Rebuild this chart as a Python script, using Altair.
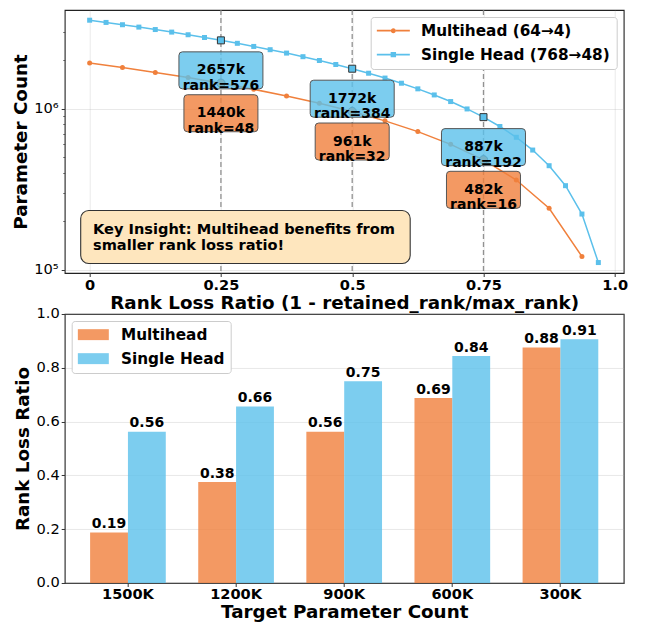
import json
import altair as alt
import pandas as pd

# ---------------- data: top panel ----------------
MH_NAME = "Multihead (64→4)"
SH_NAME = "Single Head (768→48)"

mh_loss = [0.0, 0.0625, 0.125, 0.1875, 0.25, 0.3125, 0.375, 0.4375,
           0.5, 0.5625, 0.625, 0.6875, 0.75, 0.8125, 0.875, 0.9375]
mh_rank = [64, 60, 56, 52, 48, 44, 40, 36, 32, 28, 24, 20, 16, 12, 8, 4]
mh_params_k = [1921, 1801, 1681, 1561, 1440, 1320, 1201, 1081,
               961, 841, 721, 601, 482, 361, 241, 121]

sh_loss = [0.0, 0.03125, 0.0625, 0.09375, 0.125, 0.15625, 0.1875, 0.21875,
           0.25, 0.28125, 0.3125, 0.34375, 0.375, 0.40625, 0.4375, 0.46875,
           0.5, 0.53125, 0.5625, 0.59375, 0.625, 0.65625, 0.6875, 0.71875,
           0.75, 0.78125, 0.8125, 0.84375, 0.875, 0.90625, 0.9375, 0.96875]
sh_rank = [768, 744, 720, 696, 672, 648, 624, 600, 576, 552, 528, 504, 480, 456, 432, 408,
           384, 360, 336, 312, 288, 264, 240, 216, 192, 168, 144, 120, 96, 72, 48, 24]
sh_params_k = [3544, 3433, 3322, 3211, 3101, 2990, 2879, 2768,
               2657, 2547, 2436, 2325, 2215, 2104, 1993, 1882,
               1772, 1661, 1550, 1440, 1329, 1218, 1108, 997,
               887, 776, 665, 554, 443, 333, 222, 111]

mh_marked_rank = [48, 32, 16]
sh_marked_rank = [576, 384, 192]
marked_loss = [0.25, 0.5, 0.75]

x_ticks = [0, 0.25, 0.5, 0.75, 1.0]
x_tick_labels = ["0", "0.25", "0.5", "0.75", "1.0"]
y_major = [100000, 1000000]
y_major_labels = ["10⁵", "10⁶"]
y_minor = [200000, 300000, 400000, 500000, 600000, 700000, 800000, 900000,
           2000000, 3000000]

insight_lines = ["Key Insight: Multihead benefits from", "smaller rank loss ratio!"]

# ---------------- data: bottom panel ----------------
targets = ["1500K", "1200K", "900K", "600K", "300K"]
bar_series = ["Multihead", "Single Head"]
mh_ratio = [0.1875, 0.375, 0.5625, 0.6875, 0.875]
sh_ratio = [0.5625, 0.65625, 0.75, 0.84375, 0.90625]
y2_ticks = [0.0, 0.2, 0.4, 0.6, 0.8, 1.0]

# ---------------- styles ----------------
ORANGE = "#F0803C"
BLUE = "#5BC0EB"
FONT = "DejaVu Sans"
TICK_FS = 14.6
TITLE_FS = 18.3
LEG_FS = 15.3


def series_df(loss, rank, pk):
    df = pd.DataFrame({"loss": loss, "rank": rank, "pk": pk})
    df["params"] = df["pk"] * 1000
    df["label"] = [f"{p}k\nrank={r}" for p, r in zip(pk, rank)]
    return df


mh_df = series_df(mh_loss, mh_rank, mh_params_k)
sh_df = series_df(sh_loss, sh_rank, sh_params_k)
mh_hl = mh_df[mh_df["rank"].isin(mh_marked_rank)]
sh_hl = sh_df[sh_df["rank"].isin(sh_marked_rank)]


def box_path(w, h, r):
    sy = h / w
    rr = r / (w / 2.0)
    return (f"M {-1 + rr:.4f} {-sy:.4f} L {1 - rr:.4f} {-sy:.4f} Q 1 {-sy:.4f} 1 {-sy + rr:.4f} "
            f"L 1 {sy - rr:.4f} Q 1 {sy:.4f} {1 - rr:.4f} {sy:.4f} L {-1 + rr:.4f} {sy:.4f} "
            f"Q -1 {sy:.4f} -1 {sy - rr:.4f} L -1 {-sy + rr:.4f} Q -1 {-sy:.4f} {-1 + rr:.4f} {-sy:.4f} Z")


# legend symbols (unit = 7.5 px for symbolSize 225)
LEG_MH = ("M -1 -0.107 L 0.867 -0.107 L 0.867 0.107 L -1 0.107 Z "
          "M 1.533 -0.107 L 3.4 -0.107 L 3.4 0.107 L 1.533 0.107 Z "
          "M 0.867 0 A 0.333 0.333 0 1 1 1.533 0 A 0.333 0.333 0 1 1 0.867 0 Z")
LEG_SH = ("M -1 -0.107 L 0.84 -0.107 L 0.84 0.107 L -1 0.107 Z "
          "M 1.56 -0.107 L 3.4 -0.107 L 3.4 0.107 L 1.56 0.107 Z "
          "M 0.84 -0.36 L 1.56 -0.36 L 1.56 0.36 L 0.84 0.36 Z")
LEG_PATCH = "M -1 -0.73 L 3.13 -0.73 L 3.13 0.73 L -1 0.73 Z"

xs = alt.Scale(domain=[-0.0475, 1.017], nice=False, zero=False)
ys = alt.Scale(type="log", domain=[95600, 4100000], nice=False)

major_test = f"indexof({json.dumps(y_major)}, datum.value) >= 0"

x_axis = alt.Axis(
    values=x_ticks,
    labelExpr=f"{json.dumps(x_tick_labels)}[indexof({json.dumps(x_ticks)}, datum.value)]",
    title="Rank Loss Ratio (1 - retained_rank/max_rank)",
    grid=True, gridColor="#b0b0b0", gridOpacity=0.35, gridWidth=0.8,
    domain=False, tickSize=3.5, tickColor="#333333", tickWidth=1,
    labelFont=FONT, labelFontSize=TICK_FS, labelFontWeight="bold", labelColor="black",
    labelPadding=0.5, labelFlush=False,
    titleFont=FONT, titleFontSize=TITLE_FS, titleFontWeight="bold", titleColor="black",
    titlePadding=2.5,
)
y_axis = alt.Axis(
    values=y_major + y_minor,
    labelExpr=f"{json.dumps(y_major_labels, ensure_ascii=False)}[indexof({json.dumps(y_major)}, datum.value)] || ''",
    labelOverlap=False,
    title="Parameter Count",
    grid=True, gridColor="#b0b0b0", gridWidth=0.8,
    gridOpacity={"condition": {"test": major_test, "value": 0.35}, "value": 0},
    domain=False, tickColor="#333333",
    tickSize={"condition": {"test": major_test, "value": 3.5}, "value": 2},
    tickWidth={"condition": {"test": major_test, "value": 1}, "value": 0.7},
    labelFont=FONT, labelFontSize=TICK_FS, labelColor="black", labelPadding=3,
    titleFont=FONT, titleFontSize=TITLE_FS, titleFontWeight="bold", titleColor="black",
    titlePadding=3.3,
)

X = alt.X("loss:Q", scale=xs, axis=x_axis)
Y = alt.Y("params:Q", scale=ys, axis=y_axis)

rules = alt.Chart(pd.DataFrame({"loss": marked_loss})).mark_rule(
    color="#7f7f7f", strokeDash=[5, 3], strokeWidth=1.3, opacity=0.85
).encode(x=X)

mh_line = alt.Chart(mh_df).mark_line(color=ORANGE, strokeWidth=1.5).encode(x=X, y=Y, order="loss:Q")
sh_line = alt.Chart(sh_df).mark_line(color=BLUE, strokeWidth=1.5).encode(x=X, y=Y, order="loss:Q")
mh_pts = alt.Chart(mh_df).mark_point(shape="circle", filled=True, color=ORANGE, size=25, opacity=1).encode(x=X, y=Y)
sh_pts = alt.Chart(sh_df).mark_point(shape="square", filled=True, color=BLUE, size=25, opacity=1).encode(x=X, y=Y)

mh_mark = alt.Chart(mh_hl).mark_point(shape="circle", filled=True, fill=ORANGE, stroke="#444444",
                                      strokeWidth=1, size=70, opacity=1).encode(x=X, y=Y)
sh_mark = alt.Chart(sh_hl).mark_point(shape="square", filled=True, fill=BLUE, stroke="#333333",
                                      strokeWidth=1, size=49, opacity=1).encode(x=X, y=Y)


def label_layers(df, color, w):
    box = alt.Chart(df).mark_point(
        shape=box_path(w, 37, 3.5), size=w * w, filled=True, fill=color, fillOpacity=0.8,
        stroke="#555555", strokeWidth=1, strokeOpacity=1, opacity=1, yOffset=30,
    ).encode(x=X, y=Y)
    txt = alt.Chart(df).mark_text(
        font=FONT, fontSize=14, fontWeight="bold", color="black", align="center",
        baseline="middle", lineBreak="\n", lineHeight=15.5, dy=30,
    ).encode(x=X, y=Y, text="label:N")
    return box, txt


sh_box, sh_txt = label_layers(sh_hl, BLUE, 84)
mh_box, mh_txt = label_layers(mh_hl, ORANGE, 74)

insight_box = alt.Chart(pd.DataFrame({"k": [0]})).mark_rect(
    cornerRadius=8, fill="#FEE6BE", stroke="#333333", strokeWidth=1.1, opacity=1
).encode(x=alt.value(16), x2=alt.value(345.5), y=alt.value(200.5), y2=alt.value(253.5))
insight_txt = alt.Chart(pd.DataFrame({"text": ["\n".join(insight_lines)]})).mark_text(
    font=FONT, fontSize=14.6, fontWeight="bold", color="black", align="left",
    baseline="alphabetic", lineBreak="\n", lineHeight=16,
).encode(x=alt.value(28.3), y=alt.value(224), text="text:N")

top_legend = alt.Legend(
    title=None, orient="top-right", offset=7, symbolSize=225, symbolStrokeWidth=0,
    labelFont=FONT, labelFontSize=LEG_FS, labelFontWeight="bold", labelColor="black",
    labelOffset=29, labelLimit=400, rowPadding=8, padding=6, fillColor="white",
    strokeColor="#cccccc", cornerRadius=3, symbolOpacity=1,
)
leg_df = pd.DataFrame({"series": [MH_NAME, SH_NAME], "loss": [5.0, 5.0], "params": [1e6, 1e6]})
legend_layer = alt.Chart(leg_df).mark_point(filled=True, opacity=1, clip=True).encode(
    x=X, y=Y,
    color=alt.Color("series:N", scale=alt.Scale(domain=[MH_NAME, SH_NAME], range=[ORANGE, BLUE]),
                    legend=top_legend),
    shape=alt.Shape("series:N", scale=alt.Scale(domain=[MH_NAME, SH_NAME], range=[LEG_MH, LEG_SH]),
                    legend=top_legend),
)

top = alt.layer(
    rules, mh_line, sh_line, mh_pts, sh_pts, mh_mark, sh_mark,
    insight_box, insight_txt, sh_box, sh_txt, mh_box, mh_txt, legend_layer,
).properties(width=559, height=263)

# ---------------- bottom panel ----------------
rows = []
for t, a, b in zip(targets, mh_ratio, sh_ratio):
    rows.append({"target": t, "group": bar_series[0], "value": a, "label": f"{a:.2f}"})
    rows.append({"target": t, "group": bar_series[1], "value": b, "label": f"{b:.2f}"})
bars_df = pd.DataFrame(rows)

bx = alt.X("target:N", sort=targets, scale=alt.Scale(paddingInner=0.3, paddingOuter=0.235),
           axis=alt.Axis(title="Target Parameter Count", labelAngle=0, domain=False, grid=False,
                         tickSize=3.5, tickColor="#333333", labelFont=FONT, labelFontSize=TICK_FS,
                         labelFontWeight="bold", labelColor="black", labelPadding=0,
                         titleFont=FONT, titleFontSize=TITLE_FS, titleFontWeight="bold",
                         titleColor="black", titlePadding=2.5))
bxo = alt.XOffset("group:N", sort=bar_series, scale=alt.Scale(paddingInner=0, paddingOuter=0))
by = alt.Y("value:Q", scale=alt.Scale(domain=[0, 1], nice=False),
           axis=alt.Axis(values=y2_ticks, format=".1f", title="Rank Loss Ratio", domain=False,
                         grid=True, gridColor="#b0b0b0", gridOpacity=0.35, gridWidth=0.8,
                         tickSize=3.5, tickColor="#333333", labelFont=FONT, labelFontSize=TICK_FS,
                         labelColor="black", labelPadding=2,
                         titleFont=FONT, titleFontSize=TITLE_FS, titleFontWeight="bold",
                         titleColor="black", titlePadding=3))

bars = alt.Chart(bars_df).mark_bar(opacity=0.8).encode(
    x=bx, xOffset=bxo, y=by,
    color=alt.Color("group:N", scale=alt.Scale(domain=bar_series, range=[ORANGE, BLUE]),
                    legend=alt.Legend(title=None, orient="top-left", offset=7, symbolType=LEG_PATCH,
                                      symbolSize=225, symbolStrokeWidth=0, labelFont=FONT,
                                      labelFontSize=LEG_FS, labelFontWeight="bold", labelColor="black",
                                      labelOffset=28, labelLimit=400, rowPadding=8, padding=6,
                                      fillColor="white", strokeColor="#cccccc", cornerRadius=3)),
)
bar_text = alt.Chart(bars_df).mark_text(
    font=FONT, fontSize=14, fontWeight="bold", color="black", align="center",
    baseline="alphabetic", dy=-4.5,
).encode(x=bx, xOffset=bxo, y=by, text="label:N")

bottom = alt.layer(bars, bar_text).properties(width=559, height=269)

chart = alt.vconcat(top, bottom, spacing=41, bounds="flush").resolve_scale(
    x="independent", y="independent", color="independent", shape="independent"
).properties(
    padding={"left": 2.7, "top": 0, "right": 0, "bottom": 0}
).configure(font=FONT).configure_view(stroke="#222222", strokeWidth=1.1)

chart.save("out.html", embed_options={"renderer": "svg", "actions": False})
